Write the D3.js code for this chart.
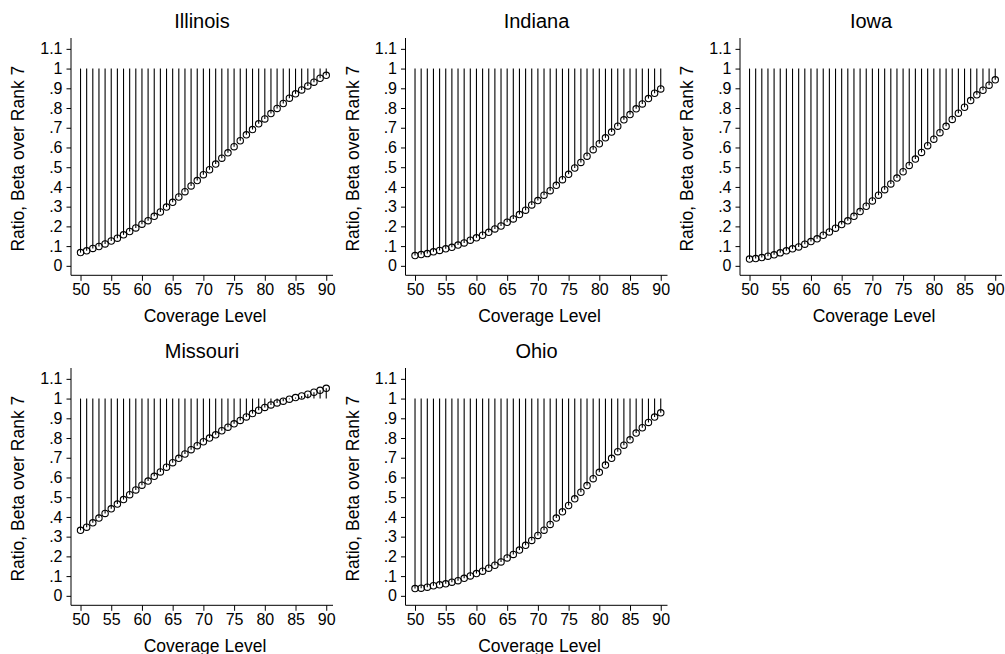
<!DOCTYPE html>
<html>
<head>
<meta charset="utf-8">
<script src="https://cdn.jsdelivr.net/npm/d3@7"></script>
<style>
  html, body { margin: 0; padding: 0; background: #fff; }
  svg { display: block; }
  text { font-family: Arial, "Liberation Sans", sans-serif; fill: #000; }
</style>
</head>
<body>
<svg id="chart" width="1005" height="654"></svg>
<script>
// ---- data ----
const coverage = d3.range(50, 91); // 50..90 step 1
const yTicks = [0, 0.1, 0.2, 0.3, 0.4, 0.5, 0.6, 0.7, 0.8, 0.9, 1, 1.1];
const yTickLabels = ["0", ".1", ".2", ".3", ".4", ".5", ".6", ".7", ".8", ".9", "1", "1.1"];
const xTicks = [50, 55, 60, 65, 70, 75, 80, 85, 90];
const states = ["Illinois", "Indiana", "Iowa", "Missouri", "Ohio"];

const illinois = [0.067,0.076,0.088,0.098,0.111,0.126,0.140,0.157,0.174,0.192,0.211,0.229,0.251,0.273,0.298,0.322,0.349,0.376,0.405,0.432,0.462,0.487,0.516,0.546,0.573,0.604,0.634,0.664,0.691,0.720,0.745,0.772,0.798,0.823,0.850,0.872,0.892,0.912,0.931,0.951,0.966];
const indiana = [0.052,0.057,0.062,0.071,0.078,0.086,0.094,0.105,0.116,0.130,0.142,0.155,0.170,0.187,0.202,0.221,0.238,0.260,0.282,0.309,0.331,0.358,0.381,0.408,0.437,0.464,0.496,0.524,0.556,0.589,0.619,0.649,0.678,0.708,0.740,0.767,0.796,0.821,0.848,0.875,0.897];
const iowa = [0.034,0.037,0.042,0.049,0.056,0.066,0.076,0.086,0.096,0.110,0.123,0.137,0.155,0.172,0.191,0.209,0.228,0.251,0.275,0.302,0.329,0.358,0.386,0.415,0.445,0.477,0.509,0.541,0.575,0.609,0.642,0.675,0.707,0.742,0.774,0.804,0.838,0.867,0.890,0.916,0.943];
const missouri = [0.332,0.348,0.370,0.394,0.418,0.441,0.465,0.488,0.513,0.537,0.561,0.582,0.606,0.628,0.652,0.675,0.697,0.719,0.741,0.761,0.781,0.800,0.816,0.837,0.855,0.872,0.889,0.907,0.924,0.941,0.955,0.968,0.978,0.987,0.997,1.005,1.013,1.022,1.032,1.042,1.052];
const ohio = [0.037,0.039,0.044,0.051,0.056,0.061,0.069,0.077,0.089,0.101,0.113,0.125,0.140,0.155,0.172,0.192,0.210,0.232,0.256,0.281,0.306,0.333,0.362,0.394,0.426,0.458,0.492,0.525,0.559,0.594,0.626,0.663,0.697,0.731,0.764,0.791,0.825,0.852,0.879,0.906,0.928];

const seriesValues = [illinois, indiana, iowa, missouri, ohio];
const baseline = 1; // spikes drop from ratio = 1

// ---- layout ----
const svg = d3.select("#chart");
const colStep = 334.5, rowStep = 330;
const plotLeft = 71, plotRight = 333, plotTop = 38, plotBottom = 275.3;
const FONT = "Arial, 'Liberation Sans', sans-serif";

states.forEach((name, i) => {
  const col = i % 3, row = Math.floor(i / 3);
  const ox = col * colStep, oy = row * rowStep;
  const g = svg.append("g").attr("transform", `translate(${ox},${oy})`);

  const x = d3.scaleLinear().domain([48.45, 91.1]).range([plotLeft, plotRight]);
  const y = d3.scaleLinear().domain([-0.048, 1.155]).range([plotBottom, plotTop]);

  const data = coverage.map((c, k) => ({ c, v: seriesValues[i][k] }));

  // spikes
  g.append("g").selectAll("line").data(data).join("line")
    .attr("x1", d => x(d.c)).attr("x2", d => x(d.c))
    .attr("y1", y(baseline)).attr("y2", d => y(d.v))
    .attr("stroke", "#000").attr("stroke-width", 1.1);

  // markers
  g.append("g").selectAll("circle").data(data).join("circle")
    .attr("cx", d => x(d.c)).attr("cy", d => y(d.v)).attr("r", 3.2)
    .attr("fill", "none").attr("stroke", "#000").attr("stroke-width", 1.1);

  // y axis
  const yAxis = d3.axisLeft(y).tickValues(yTicks)
    .tickFormat((d, k) => yTickLabels[k]).tickSize(4.5).tickPadding(4);
  const ya = g.append("g").attr("transform", `translate(${plotLeft},0)`).call(yAxis);
  ya.select(".domain").attr("d", `M0,${plotTop}V${plotBottom}`).attr("stroke", "#000");
  ya.selectAll("text").style("font-size", "16px").attr("font-family", FONT);

  // x axis
  const xAxis = d3.axisBottom(x).tickValues(xTicks).tickSize(5.5).tickPadding(2.5);
  const xa = g.append("g").attr("transform", `translate(0,${plotBottom})`).call(xAxis);
  xa.select(".domain").attr("d", `M${plotLeft},0H${plotRight}`).attr("stroke", "#000");
  xa.selectAll("text").style("font-size", "16px").attr("font-family", FONT);

  // title
  g.append("text").attr("x", (plotLeft + plotRight) / 2).attr("y", 28)
    .attr("text-anchor", "middle").style("font-size", "20px").text(name);

  // x label
  g.append("text").attr("x", (plotLeft + plotRight) / 2 + 3).attr("y", 322)
    .attr("text-anchor", "middle").style("font-size", "17.5px").text("Coverage Level");

  // y label
  g.append("text").attr("transform", `translate(24,${(plotTop + plotBottom) / 2 + 2}) rotate(-90)`)
    .attr("text-anchor", "middle").style("font-size", "17.5px").text("Ratio, Beta over Rank 7");
});
</script>
</body>
</html>
